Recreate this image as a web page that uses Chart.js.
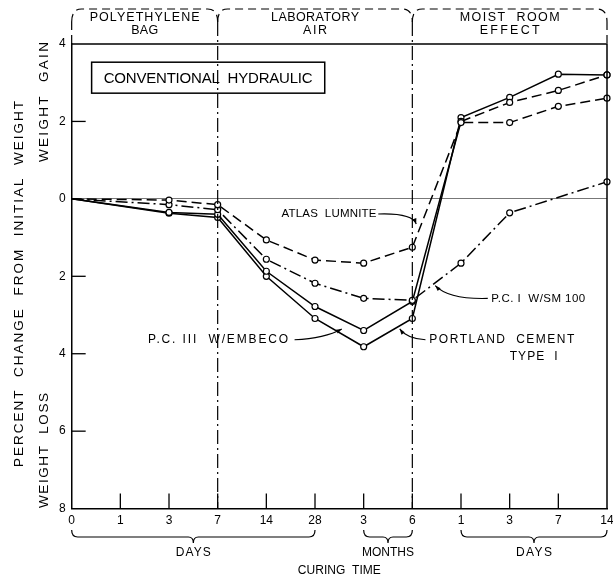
<!DOCTYPE html>
<html><head><meta charset="utf-8">
<script src="https://cdn.jsdelivr.net/npm/chart.js@4.4.0/dist/chart.umd.min.js"></script>
<style>html,body{margin:0;padding:0;background:#fff}#wrap{width:613px;height:579px;position:relative}</style>
</head><body><div id="wrap"><canvas id="c" width="613" height="579"></canvas></div>
<script>
// ---- data ----
const categories = ['0','1','3','7','14','28','3','6','1','3','7','14'];
const atlasLumnite  = [0, null, -0.03, -0.15, -1.06, -1.58, -1.66, -1.25, 1.97, 1.97, 2.39, 2.60];
const pcSM100       = [0, null, -0.15, -0.28, -1.56, -2.18, -2.57, -2.62, -1.66, -0.36, null, 0.44];
const pcEmbeco      = [0, null, -0.35, -0.40, -1.87, -2.78, -3.40, -2.65, 2.00, 2.49, 2.80, 3.20];
const portlandTypeI = [0, null, -0.37, -0.48, -2.00, -3.09, -3.82, -3.09, 2.10, 2.62, 3.22, 3.20];
const yTickValues = [4, 2, 0, -2, -4, -6, -8];
const phaseNames = [['POLYETHYLENE','BAG'], ['LABORATORY','AIR'], ['MOIST  ROOM','EFFECT']];
const phaseBounds = [[0,3],[3,7],[7,11]];
const timeUnits = ['DAYS','MONTHS','DAYS'];
const timeBounds = [[0,5],[6,7],[8,11]];

const FONT = '"DejaVu Sans", sans-serif';
const FONT2 = '"Liberation Sans", Arial, sans-serif';
Chart.defaults.font.family = FONT;
Chart.defaults.color = '#000';

function ds(label, data, dash, extra) {
  return Object.assign({
    label, data,
    borderColor:'#000', borderWidth:1.5, borderDash:dash, fill:false, tension:0, spanGaps:true,
    pointRadius: c => c.dataIndex === 0 ? 0 : 3,
    pointBackgroundColor:'#fff', pointBorderColor:'#000', pointBorderWidth:1.2
  }, extra || {});
}

// draw text stretched to a given width via letter spacing
function fitText(ctx, s, x, y, w, align) {
  ctx.letterSpacing = '0px';
  const m = ctx.measureText(s).width;
  const n = Math.max(1, s.length - 1);
  const sp = (w - m) / n;
  ctx.letterSpacing = sp.toFixed(2) + 'px';
  ctx.textAlign = 'left';
  ctx.fillText(s, align === 'center' ? x - w / 2 : x, y);
  ctx.letterSpacing = '0px';
}

const decor = {
  id:'decor',
  afterDraw(chart) {
    const ctx = chart.ctx, a = chart.chartArea;
    const xs = chart.scales.x, ys = chart.scales.y;
    const X = i => xs.getPixelForValue(i), Y = v => ys.getPixelForValue(v);
    ctx.save();
    ctx.strokeStyle = '#000'; ctx.fillStyle = '#000';
    // frame top/right
    ctx.lineWidth = 1.5; ctx.setLineDash([]);
    ctx.beginPath(); ctx.moveTo(a.left, a.top); ctx.lineTo(a.right, a.top); ctx.lineTo(a.right, a.bottom); ctx.stroke();
    // inward ticks
    ctx.lineWidth = 1.3;
    for (let i = 1; i < categories.length - 1; i++) {
      ctx.beginPath(); ctx.moveTo(X(i), a.bottom); ctx.lineTo(X(i), a.bottom - 15); ctx.stroke();
    }
    yTickValues.forEach(v => { if (v !== 0 && v !== 4 && v !== -8) {
      ctx.beginPath(); ctx.moveTo(a.left, Y(v)); ctx.lineTo(a.left + 14, Y(v)); ctx.stroke(); }});
    // phase separators
    ctx.lineWidth = 1.2; ctx.setLineDash([14,4,2,4]);
    const hy = 9, hb = 22;
    [3,7].forEach(i => { ctx.beginPath(); ctx.moveTo(X(i), hb); ctx.lineTo(X(i), a.bottom); ctx.stroke(); });
    // header brackets
    ctx.setLineDash([8,5]);
    phaseBounds.forEach(([f,t]) => {
      const x0 = X(f), x1 = X(t);
      ctx.beginPath(); ctx.moveTo(x0, hb); ctx.quadraticCurveTo(x0, hy, x0 + 10, hy);
      ctx.lineTo(x1 - 10, hy); ctx.quadraticCurveTo(x1, hy, x1, hb); ctx.stroke();
    });
    [0, categories.length - 1].forEach(i => { ctx.beginPath(); ctx.moveTo(X(i), hb); ctx.lineTo(X(i), a.top); ctx.stroke(); });
    ctx.setLineDash([]);
    // header text
    ctx.font = '12.5px ' + FONT2; ctx.textBaseline = 'middle';
    const hw = [[110, 27], [88, 24], [100, 60]];
    phaseBounds.forEach(([f,t], k) => {
      const xm = (X(f) + X(t)) / 2;
      fitText(ctx, phaseNames[k][0], xm, 18, hw[k][0], 'center');
      fitText(ctx, phaseNames[k][1], xm, 31, hw[k][1], 'center');
    });
    // bottom braces
    ctx.lineWidth = 1.2;
    const by = 537;
    const tw = [35, 52, 36];
    ctx.font = '12px ' + FONT2;
    timeBounds.forEach(([f,t], k) => {
      const x0 = X(f), x1 = X(t), xm = (x0 + x1) / 2;
      ctx.beginPath(); ctx.moveTo(x0, by - 7); ctx.quadraticCurveTo(x0, by, x0 + 6, by);
      ctx.lineTo(xm - 5, by); ctx.quadraticCurveTo(xm, by, xm, by + 6);
      ctx.quadraticCurveTo(xm, by, xm + 5, by); ctx.lineTo(x1 - 6, by);
      ctx.quadraticCurveTo(x1, by, x1, by - 7); ctx.stroke();
      fitText(ctx, timeUnits[k], xm, 553, tw[k], 'center');
    });
    fitText(ctx, 'CURING  TIME', (a.left + a.right) / 2, 571, 83, 'center');
    // y titles
    const vtext = (s, x, y, w) => { ctx.save(); ctx.translate(x, y); ctx.rotate(-Math.PI/2); fitText(ctx, s, 0, 0, w, 'center'); ctx.restore(); };
    ctx.font = '13.5px ' + FONT2;
    vtext('PERCENT  CHANGE  FROM  INITIAL  WEIGHT', 19, Y(-2.2), 366);
    vtext('WEIGHT  GAIN', 44, Y(2.5), 120);
    vtext('WEIGHT  LOSS', 44, Y(-6.5), 115);
    // title box
    ctx.lineWidth = 1.5;
    const bx0 = X(0.41), bx1 = X(5.2), by0 = Y(3.53), by1 = Y(2.73);
    ctx.strokeRect(bx0, by0, bx1 - bx0, by1 - by0);
    ctx.font = '15px ' + FONT2;
    fitText(ctx, 'CONVENTIONAL  HYDRAULIC', (bx0 + bx1) / 2, (by0 + by1) / 2 + 1, 209, 'center');
    // series labels with leaders
    ctx.lineWidth = 1.1;
    const leader = (sx, sy, cx, cy, tx, ty) => {
      ctx.beginPath(); ctx.moveTo(sx, sy); ctx.quadraticCurveTo(cx, cy, tx, ty); ctx.stroke();
      const ang = Math.atan2(ty - cy, tx - cx), L = 6;
      ctx.beginPath(); ctx.moveTo(tx, ty);
      ctx.lineTo(tx - L*Math.cos(ang - 0.35), ty - L*Math.sin(ang - 0.35));
      ctx.lineTo(tx - L*Math.cos(ang + 0.35), ty - L*Math.sin(ang + 0.35));
      ctx.closePath(); ctx.fill();
    };
    ctx.font = '11.5px ' + FONT2;
    fitText(ctx, 'ATLAS  LUMNITE', X(4.31), Y(-0.39), 95);
    leader(X(6.3), Y(-0.39), X(7.0), Y(-0.36), X(7.08), Y(-0.65));
    fitText(ctx, 'P.C. I  W/SM 100', X(8.62), Y(-2.57), 94);
    leader(X(8.55), Y(-2.57), X(7.75), Y(-2.6), X(7.47), Y(-2.24));
    ctx.font = '12px ' + FONT2;
    fitText(ctx, 'P.C. III  W/EMBECO', X(1.57), Y(-3.64), 140);
    leader(X(4.58), Y(-3.64), X(5.2), Y(-3.6), X(5.55), Y(-3.36));
    fitText(ctx, 'PORTLAND  CEMENT', X(7.35), Y(-3.64), 145);
    fitText(ctx, 'TYPE  I', X(9.0), Y(-4.08), 48);
    leader(X(7.27), Y(-3.64), X(6.9), Y(-3.62), X(6.74), Y(-3.36));
    ctx.restore();
  }
};

new Chart(document.getElementById('c'), {
  type:'line',
  data:{
    labels: categories,
    datasets:[
      ds('Atlas Lumnite', atlasLumnite, [10,5]),
      ds('P.C. I w/ SM 100', pcSM100, [12,4,2,4]),
      ds('P.C. III w/ Embeco', pcEmbeco, [], {segment:{borderDash: c => c.p0DataIndex >= 8 ? [10,5] : undefined}}),
      ds('Portland Cement Type I', portlandTypeI, [])
    ]
  },
  options:{
    responsive:false, animation:false, devicePixelRatio:1,
    layout:{padding:{left:53, top:44, right:6, bottom:46}},
    plugins:{legend:{display:false}, title:{display:false}, tooltip:{enabled:false}},
    scales:{
      x:{type:'category', offset:false,
         afterFit: s => { s.paddingRight = 0; s.paddingLeft = 0; },
         grid:{display:false, drawTicks:false},
         border:{display:true, color:'#000', width:1.5},
         ticks:{color:'#000', font:{size:12, family:FONT2}, padding:5, autoSkip:false, maxRotation:0}},
      y:{min:-8, max:4,
         afterBuildTicks: s => { s.ticks = yTickValues.map(v => ({value:v})); },
         grid:{drawTicks:false, color: c => (c.tick && c.tick.value === 0) ? '#777' : 'rgba(0,0,0,0)', lineWidth:1},
         border:{display:true, color:'#000', width:1.5},
         ticks:{color:'#000', font:{size:12, family:FONT2}, padding:6, callback: v => String(Math.abs(v))}}
    }
  },
  plugins:[decor]
});
</script></body></html>
